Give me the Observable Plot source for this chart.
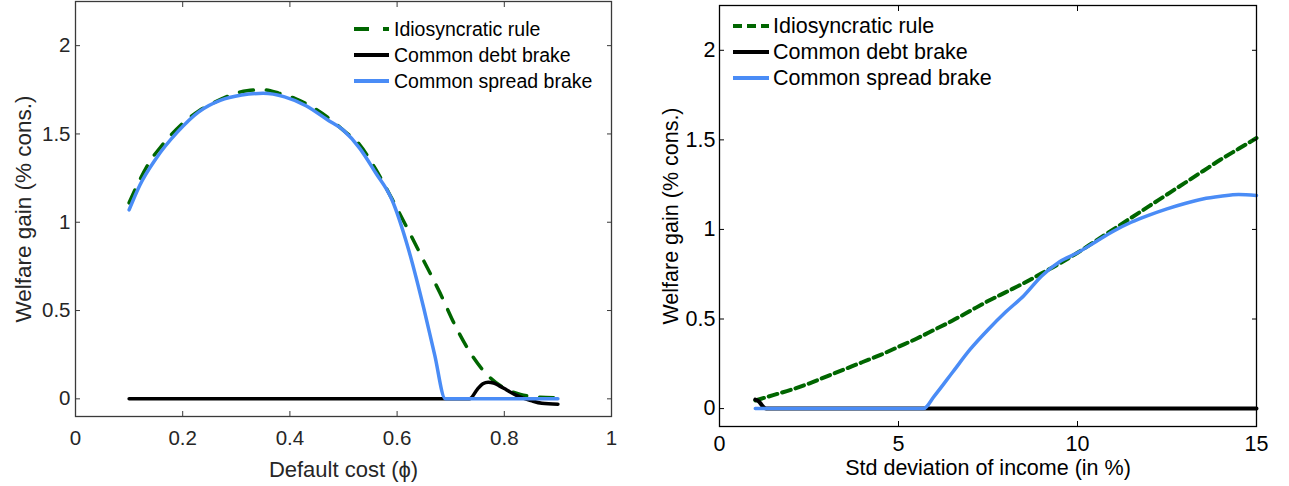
<!DOCTYPE html>
<html><head><meta charset="utf-8">
<script src="https://cdn.jsdelivr.net/npm/d3@7"></script>
<script src="https://cdn.jsdelivr.net/npm/@observablehq/plot@0.6"></script>
<style>
body{margin:0;background:#fff;}
#wrap{position:relative;width:1289px;height:486px;overflow:hidden;background:#fff;font-family:"Liberation Sans",Arial,sans-serif;}
.panel{position:absolute;top:0;}
#legend{position:absolute;top:0;left:0;pointer-events:none;}
</style></head><body><div id="wrap"></div>
<script>
// ---------- data ----------
const seriesNames = ["Idiosyncratic rule", "Common debt brake", "Common spread brake"];
const seriesColors = ["#006600", "#000000", "#4a8cf6"];

const yTicks = [0, 0.5, 1, 1.5, 2];

// Left panel: default cost (phi)
const leftXTicks = [0, 0.2, 0.4, 0.6, 0.8, 1];
const phiIdio = [0.10,0.12,0.14,0.16,0.18,0.20,0.23,0.26,0.29,0.32,0.35,0.38,0.41,0.44,0.47,0.50,0.53,0.56,0.59,0.62,0.65,0.68,0.71,0.74,0.77,0.80,0.83,0.86,0.90];
const gainIdioPhi = [1.11,1.24,1.35,1.43,1.50,1.56,1.63,1.68,1.72,1.745,1.75,1.73,1.70,1.655,1.595,1.52,1.44,1.30,1.135,0.96,0.78,0.60,0.405,0.245,0.13,0.06,0.025,0.01,0.005];
const phiDebt = [0.10,0.30,0.50,0.70,0.735,0.75,0.76,0.77,0.78,0.79,0.80,0.81,0.82,0.83,0.85,0.87,0.90];
const gainDebtPhi = [0,0,0,0,0,0.055,0.085,0.094,0.09,0.075,0.058,0.04,0.024,0.01,-0.01,-0.025,-0.03];
const phiSpread = [0.10,0.12,0.15,0.19,0.23,0.27,0.31,0.35,0.39,0.43,0.47,0.50,0.53,0.56,0.59,0.62,0.65,0.67,0.69,0.70,0.80,0.90];
const gainSpreadPhi = [1.07,1.21,1.36,1.51,1.625,1.69,1.72,1.73,1.71,1.66,1.58,1.52,1.42,1.28,1.13,0.86,0.51,0.25,0.0,0.0,0.0,0.0];

// Right panel: std deviation of income (%)
const rightXTicks = [0, 5, 10, 15];
const sdIdio = [1,1.5,2,2.5,3,3.5,4,4.5,5,5.5,6,6.5,7,7.5,8,8.5,9,9.5,10,10.5,11,11.5,12,12.5,13,13.5,14,14.5,15];
const gainIdioSd = [0.045,0.075,0.105,0.14,0.18,0.22,0.26,0.30,0.345,0.39,0.44,0.49,0.545,0.60,0.65,0.70,0.755,0.81,0.87,0.935,1.0,1.065,1.13,1.195,1.26,1.325,1.39,1.45,1.51];
const sdDebt = [1.0,1.1,1.2,1.3,5,10,15];
const gainDebtSd = [0.05,0.04,0.015,0,0,0,0];
const sdSpread = [1,2,3,4,5,5.7,6,6.5,7,7.5,8,8.5,9,9.5,10,10.5,11,11.5,12,12.5,13,13.5,14,14.5,15];
const gainSpreadSd = [0,0,0,0,0,0,0.07,0.2,0.33,0.44,0.54,0.63,0.74,0.82,0.87,0.93,0.99,1.04,1.08,1.115,1.145,1.17,1.185,1.195,1.19];

// ---------- helpers ----------
const FONT = '"Liberation Sans", Arial, sans-serif';
const zip = (xs, ys) => xs.map((x, i) => ({x, y: ys[i]}));

function makePanel(cfg) {
  const lines = cfg.series.map((s, i) => Plot.line(s, {
    x: "x", y: "y", stroke: seriesColors[i], strokeWidth: cfg.widths[i],
    strokeDasharray: i === 0 ? cfg.dash : null, curve: "monotone-x"
  }));
  const tick = cfg.frameColor;
  return Plot.plot({
    width: cfg.width, height: 486,
    marginLeft: cfg.ml, marginRight: cfg.mr, marginTop: cfg.mt, marginBottom: cfg.mb,
    style: {fontFamily: FONT, fontSize: cfg.tickFont + "px", color: cfg.textColor, background: "#fff", overflow: "visible"},
    x: {domain: cfg.xDomain},
    y: {domain: [-0.1, 2.25]},
    marks: [
      ...lines,
      Plot.axisX(cfg.xTicks, {anchor: "bottom", tickSize: 0, tickPadding: cfg.xPad, label: null, tickFormat: d => String(d), fill: cfg.textColor}),
      Plot.axisY(yTicks, {anchor: "left", tickSize: 0, tickPadding: cfg.yPad, label: null, tickFormat: d => String(d), fill: cfg.textColor}),
      Plot.axisX(cfg.xTicks, {anchor: "bottom", tickSize: 5, dy: -5, fill: "none", stroke: tick, label: null}),
      Plot.axisX(cfg.xTicks, {anchor: "top", tickSize: 5, dy: 5, fill: "none", stroke: tick, label: null}),
      Plot.axisY(yTicks, {anchor: "left", tickSize: 5, dx: 5, fill: "none", stroke: tick, label: null}),
      Plot.axisY(yTicks, {anchor: "right", tickSize: 5, dx: -5, fill: "none", stroke: tick, label: null}),
      Plot.frame({stroke: tick, strokeWidth: 1.3}),
      Plot.text([cfg.xTitle], {text: d => d, frameAnchor: "bottom", lineAnchor: "top", dy: cfg.xTitleDy, fill: cfg.textColor, fontSize: cfg.xTitleFont}),
      Plot.text([cfg.yTitle], {text: d => d, frameAnchor: "left", rotate: -90, lineAnchor: "top", textAnchor: "middle", dx: cfg.yTitleDx, fill: cfg.textColor, fontSize: cfg.yTitleFont})
    ]
  });
}

const wrap = document.getElementById("wrap");

const left = makePanel({
  width: 644, ml: 75, mr: 33, mt: 1, mb: 70,
  xDomain: [0, 1], xTicks: leftXTicks,
  series: [zip(phiIdio, gainIdioPhi), zip(phiDebt, gainDebtPhi), zip(phiSpread, gainSpreadPhi)],
  widths: [3.5, 3.5, 3.5], dash: "14,13",
  tickFont: 20.5, xTitleFont: 22, yTitleFont: 22.5,
  xPad: 14.4, yPad: 5, xTitleDy: 44.4, yTitleDx: -60,
  xTitle: "Default cost (\u03D5)", yTitle: "Welfare gain (% cons.)",
  frameColor: "#3a3a3a", textColor: "#262626"
});
left.classList.add("panel"); left.style.left = "0px";
wrap.appendChild(left);

const right = makePanel({
  width: 645, ml: 75, mr: 33, mt: 5, mb: 60,
  xDomain: [0, 15], xTicks: rightXTicks,
  series: [zip(sdIdio, gainIdioSd), zip(sdDebt, gainDebtSd), zip(sdSpread, gainSpreadSd)],
  widths: [4, 4, 3.5], dash: "9,5",
  tickFont: 21.5, xTitleFont: 21.5, yTitleFont: 21.5,
  xPad: 9.5, yPad: 4, xTitleDy: 33, yTitleDx: -57,
  xTitle: "Std deviation of income (in %)", yTitle: "Welfare gain (% cons.)",
  frameColor: "#000", textColor: "#000"
});
right.classList.add("panel"); right.style.left = "644px";
wrap.appendChild(right);

// ---------- legends ----------
const legendSpecs = [
  {x0: 354, x1: 389, tx: 394, rows: [29, 55, 81], dash: "15,14", color: "#000", font: 19.5},
  {x0: 733, x1: 769, tx: 773, rows: [26, 52, 78], dash: "9,5", color: "#000", font: 21.5}
];
const lg = d3.select(wrap).append("svg").attr("id", "legend").attr("width", 1289).attr("height", 486);
legendSpecs.forEach(spec => {
  seriesNames.forEach((name, i) => {
    const y = spec.rows[i];
    lg.append("line").attr("x1", spec.x0).attr("x2", spec.x1).attr("y1", y).attr("y2", y)
      .attr("stroke", seriesColors[i]).attr("stroke-width", 4)
      .attr("stroke-dasharray", i === 0 ? spec.dash : null);
    lg.append("text").attr("x", spec.tx).attr("y", y).attr("dominant-baseline", "central")
      .attr("font-family", FONT).attr("font-size", spec.font + "px").attr("fill", spec.color).text(name);
  });
});
</script></body></html>
